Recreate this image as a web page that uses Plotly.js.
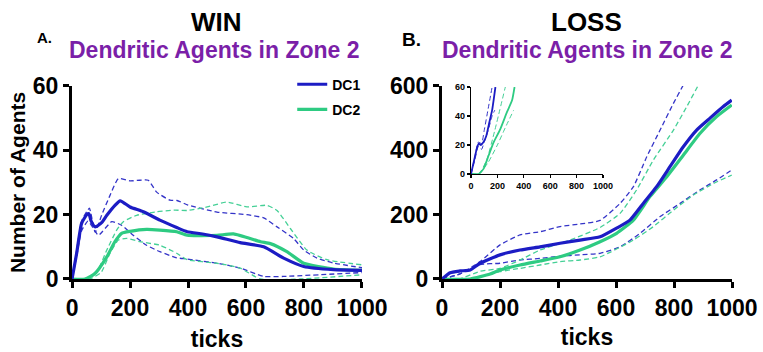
<!DOCTYPE html>
<html>
<head>
<meta charset="utf-8">
<script src="https://cdn.plot.ly/plotly-3.0.1.min.js"></script>
<style>html,body{margin:0;padding:0;background:#fff;}#chart{width:763px;height:352px;}</style>
</head>
<body>
<div id="chart"></div>
<script>
// ---------- WIN panel ----------
var winDC1X = [0,16,33,51,58,66,80,102,120,148,166,200,246,303,361,397,450,500,580,661,730,799,902,1000];
var winDC1Y = [0,8,17.3,20,20.3,18,16.2,17.5,19.8,22.9,24.3,22.4,20.9,18.3,16,14.7,14,13.1,11.3,10,6.5,3.9,2.9,2.7];
var winDC1UpX = [0,16,33,51,60,80,102,131,160,200,234,263,292,338,362,400,500,603,661,707,764,799,845,900,1000];
var winDC1UpY = [0,9,18,21,22,14.5,19.8,26,31.2,30.5,30.7,30.7,27,24.5,24.4,23,20.8,20,19,16.2,12.6,9,6.5,5,3.5];
var winDC1LoX = [0,16,33,55,72,91,137,171,211,257,303,361,397,500,580,661,730,1000];
var winDC1LoY = [0,7,15,18,16,13.6,17.8,16.7,13.6,10.5,8.5,6.6,6.2,4.9,3.4,0.8,0.8,2];
var winDC2X = [0,45,79,120,148,171,200,257,303,361,397,500,557,650,684,741,799,902,1000];
var winDC2Y = [0,0,1.7,6.9,11.6,14.2,14.8,15.4,15.2,14.7,13.6,13.6,14,11.6,11,8.5,4.9,3.1,2.7];
var winDC2UpX = [0,50,90,120,154,177,223,292,355,397,466,534,603,672,707,753,810,879,1000];
var winDC2UpY = [0,0,3,9,15.2,17.8,19.8,20.9,21.4,21.3,22.4,23.9,22.4,22.9,21.3,15.7,9,6,4.4];
var winDC2LoX = [0,60,100,131,160,189,234,303,361,397,500,580,649,787,1000];
var winDC2LoY = [0,0,2,8,12.1,12.6,11.6,10.5,8,6,4.9,3.4,0,0,1.3];

// ---------- LOSS panel ----------
var lossDC1X = [0,28,62,97,131,200,269,338,407,476,545,602,648,694,740,786,832,878,924,970,999];
var lossDC1Y = [0,19.6,25,28,49,75,90,100,111,121,131,158,183,235,287,349,411,463,500,536,556];
var lossDC1UpX = [0,60,131,200,269,338,407,476,545,614,660,706,752,798,832,860];
var lossDC1UpY = [0,15,54,106,137,147,163,171,182,235,287,380,463,546,603,650];
var lossDC1LoX = [0,60,131,200,269,338,407,476,545,614,683,752,821,890,947,999];
var lossDC1LoY = [0,15,45,49,59,64,71,75,80,100,142,194,235,277,308,339];
var lossDC2X = [0,97,166,200,269,338,407,476,545,602,660,717,775,832,890,947,999];
var lossDC2Y = [0,0,15.5,28,43.5,56,69,90,116,142,183,256,318,385,453,505,541];
var lossDC2UpX = [0,60,131,200,269,338,441,545,614,671,729,798,844,884,910];
var lossDC2UpY = [0,0,24,33,59,90,121,160,204,277,370,463,536,603,650];
var lossDC2LoX = [0,97,200,269,338,407,476,545,660,729,798,867,936,999];
var lossDC2LoY = [0,0,23,33,43.5,54,59,69,121,163,214,261,297,323];

// ---------- LOSS inset ----------
var insDC1X = [0,25,45,58,75,95,115,140,160,185];
var insDC1Y = [0,10,18,21,20,22,26,36,44,60];
var insDC1UpX = [0,30,55,80,100,130,160];
var insDC1UpY = [0,12,22,21,30,45,60];
var insDC1LoX = [0,30,55,80,100,130,160,180];
var insDC1LoY = [0,10,19,17,22,30,40,44];
var insDC2X = [0,58,96,134,172,222,273,311,330];
var insDC2Y = [0,0,3.7,12.9,22,31,42.8,50.8,60];
var insDC2UpX = [0,60,120,180,260];
var insDC2UpY = [0,0,10,30,60];
var insDC2LoX = [0,60,130,200,260,323];
var insDC2LoY = [0,0,8,20,32,44];

var xTicks = [0,200,400,600,800,1000];
var winYTicks = [0,20,40,60];
var lossYTicks = [0,200,400,600];
var insYTicks = [0,20,40,60];

var BLUE = '#1c1cc4', GREEN = '#2ecb82', BLUE_D = '#3434c8', GREEN_D = '#45d096';
var PURPLE = '#7b1fa8';
var FONT = 'Liberation Sans, Arial, sans-serif';

function mean(x, y, c, xa, ya, name, legend, w) {
  return {x: x, y: y, mode: 'lines', name: name, showlegend: !!legend, legendgroup: name,
    line: {color: c, width: w || 3.2, shape: 'spline', smoothing: 0.5}, xaxis: xa, yaxis: ya, hoverinfo: 'skip'};
}
function band(x, y, c, xa, ya, w) {
  return {x: x, y: y, mode: 'lines', showlegend: false,
    line: {color: c, width: w || 1.3, dash: '5px,3px', shape: 'spline', smoothing: 0.5}, xaxis: xa, yaxis: ya, hoverinfo: 'skip'};
}

var traces = [
  band(winDC1UpX, winDC1UpY, BLUE_D, 'x', 'y'),
  band(winDC1LoX, winDC1LoY, BLUE_D, 'x', 'y'),
  band(winDC2UpX, winDC2UpY, GREEN_D, 'x', 'y'),
  band(winDC2LoX, winDC2LoY, GREEN_D, 'x', 'y'),
  mean(winDC2X, winDC2Y, GREEN, 'x', 'y', 'DC2', false),
  mean(winDC1X, winDC1Y, BLUE, 'x', 'y', 'DC1', true),
  {x: [null], y: [null], mode: 'lines', name: 'DC2', legendgroup: 'DC2b', showlegend: true,
    line: {color: GREEN, width: 3.2}, xaxis: 'x', yaxis: 'y'},

  band(lossDC1UpX, lossDC1UpY, BLUE_D, 'x2', 'y2'),
  band(lossDC1LoX, lossDC1LoY, BLUE_D, 'x2', 'y2'),
  band(lossDC2UpX, lossDC2UpY, GREEN_D, 'x2', 'y2'),
  band(lossDC2LoX, lossDC2LoY, GREEN_D, 'x2', 'y2'),
  mean(lossDC2X, lossDC2Y, GREEN, 'x2', 'y2', 'DC2', false),
  mean(lossDC1X, lossDC1Y, BLUE, 'x2', 'y2', 'DC1', false),

  band(insDC1UpX, insDC1UpY, BLUE_D, 'x3', 'y3', 1),
  band(insDC1LoX, insDC1LoY, BLUE_D, 'x3', 'y3', 1),
  band(insDC2UpX, insDC2UpY, GREEN_D, 'x3', 'y3', 1),
  band(insDC2LoX, insDC2LoY, GREEN_D, 'x3', 'y3', 1),
  mean(insDC2X, insDC2Y, GREEN, 'x3', 'y3', 'DC2', false, 1.8),
  mean(insDC1X, insDC1Y, BLUE, 'x3', 'y3', 'DC1', false, 1.8)
];

var tickFont = {family: FONT, size: 23, color: '#000', weight: 'bold'};
var insFont = {family: FONT, size: 9, color: '#000', weight: 'bold'};
function mainAxis(extra) {
  var a = {showline: true, linewidth: 3, linecolor: '#000', ticks: 'outside', ticklen: 6,
    tickwidth: 3, tickcolor: '#000', showgrid: false, zeroline: false, tickfont: tickFont,
    fixedrange: true};
  for (var k in extra) a[k] = extra[k];
  return a;
}
function insAxis(extra) {
  var a = {showline: true, linewidth: 1.2, linecolor: '#000', ticks: 'outside', ticklen: 3,
    tickwidth: 1.2, tickcolor: '#000', showgrid: false, zeroline: false, tickfont: insFont,
    fixedrange: true};
  for (var k in extra) a[k] = extra[k];
  return a;
}
var titleFont = {family: FONT, size: 23, color: '#000', weight: 'bold'};

function ann(text, px, py, size, color) {
  return {text: text, x: px/763, y: 1 - py/352, xref: 'paper', yref: 'paper', showarrow: false,
    xanchor: 'center', yanchor: 'middle', font: {family: FONT, size: size, color: color, weight: 'bold'}};
}

var layout = {
  width: 763, height: 352,
  margin: {l: 0, r: 0, t: 0, b: 0},
  paper_bgcolor: '#fff', plot_bgcolor: 'rgba(0,0,0,0)',
  showlegend: true,
  legend: {x: 0.383, y: 0.805, xanchor: 'left', yanchor: 'top', bgcolor: 'rgba(0,0,0,0)',
    borderwidth: 0, traceorder: 'grouped', tracegroupgap: 4, itemwidth: 30,
    font: {family: FONT, size: 14, color: '#000', weight: 'bold'}},
  xaxis: mainAxis({domain: [0.0944, 0.4744], anchor: 'y', range: [0, 1000], tickvals: xTicks,
    title: {text: 'ticks', font: titleFont, standoff: 14}}),
  yaxis: mainAxis({domain: [0.2074, 0.7557], anchor: 'x', range: [0, 60], tickvals: winYTicks,
    title: {text: 'Number of Agents', font: {family: FONT, size: 21, color: '#000', weight: 'bold'}, standoff: 2}}),
  xaxis2: mainAxis({domain: [0.5793, 0.9594], anchor: 'y2', range: [0, 1000], tickvals: xTicks,
    title: {text: 'ticks', font: titleFont, standoff: 10}}),
  yaxis2: mainAxis({domain: [0.2074, 0.7557], anchor: 'x2', range: [0, 600], tickvals: lossYTicks}),
  xaxis3: insAxis({domain: [0.6173, 0.7903], anchor: 'y3', range: [0, 1000], tickvals: xTicks}),
  yaxis3: insAxis({domain: [0.5057, 0.7528], anchor: 'x3', range: [0, 60], tickvals: insYTicks}),
  annotations: [
    ann('WIN', 216, 22, 26, '#000'),
    ann('LOSS', 586, 22, 26, '#000'),
    ann('A.', 44, 38, 15, '#000'),
    ann('B.', 411, 39, 19, '#000'),
    ann('Dendritic Agents in Zone 2', 214, 50, 23, PURPLE),
    ann('Dendritic Agents in Zone 2', 587, 50, 23, PURPLE)
  ]
};

Plotly.newPlot('chart', traces, layout, {displayModeBar: false, staticPlot: true});
</script>
</body>
</html>
